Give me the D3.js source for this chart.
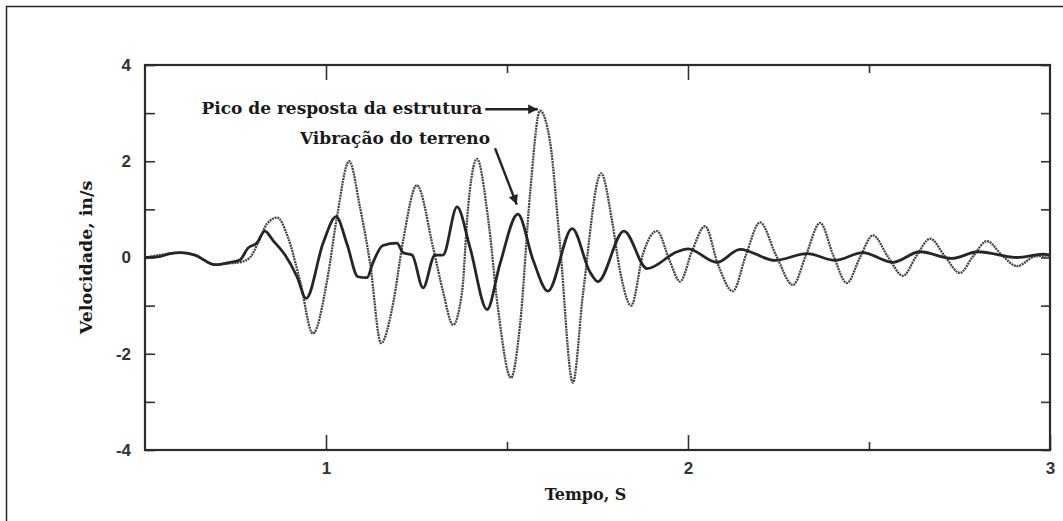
<!DOCTYPE html>
<html>
<head>
<meta charset="utf-8">
<script src="https://cdn.jsdelivr.net/npm/d3@7"></script>
<style>
  body { margin: 0; background: #fff; }
  svg { display: block; }
  .serif-label { font-family: "DejaVu Serif", serif; font-weight: bold; fill: #1a1a1a; }
  .tick text { font-family: "Liberation Sans", Arial, sans-serif; font-weight: bold; fill: #333; }
</style>
</head>
<body>
<div id="chart"></div>
<script>
// Time (s) and velocity (in/s)
const groundTime = [0.5, 0.541, 0.569, 0.597, 0.638, 0.693, 0.735, 0.762, 0.785, 0.809,
  0.831, 0.854, 0.887, 0.92, 0.945, 0.992, 1.028, 1.058, 1.088, 1.113,
  1.13, 1.157, 1.196, 1.213, 1.238, 1.268, 1.301, 1.323, 1.362, 1.398,
  1.445, 1.48, 1.53, 1.572, 1.613, 1.68, 1.729, 1.751, 1.823, 1.887,
  1.97, 2.0, 2.08, 2.144, 2.24, 2.329, 2.406, 2.483, 2.566, 2.641,
  2.729, 2.801, 2.909, 2.981, 3.0]
const groundVelocity = [0, 0.02, 0.08, 0.1, 0.05, -0.15, -0.1, -0.05, 0.2, 0.3,
  0.55, 0.35, 0.05, -0.4, -0.85, 0.3, 0.85, 0.28, -0.4, -0.42,
  -0.1, 0.25, 0.3, 0.1, 0.05, -0.63, 0.05, 0.05, 1.05, 0.2,
  -1.08, -0.15, 0.9, -0.05, -0.7, 0.6, -0.3, -0.5, 0.55, -0.23,
  0.12, 0.18, -0.1, 0.17, -0.06, 0.08, -0.06, 0.1, -0.1, 0.12,
  -0.02, 0.12, 0.0, 0.07, 0.05]

const structureTime = [0.5, 0.569, 0.597, 0.638, 0.693, 0.735, 0.762, 0.79, 0.812, 0.837,
  0.865, 0.895, 0.928, 0.964, 1.003, 1.03, 1.064, 1.094, 1.122, 1.152,
  1.185, 1.213, 1.251, 1.296, 1.323, 1.351, 1.376, 1.392, 1.417, 1.448,
  1.475, 1.511, 1.536, 1.564, 1.591, 1.619, 1.646, 1.682, 1.71, 1.76,
  1.79, 1.812, 1.843, 1.876, 1.914, 1.95, 1.978, 2.011, 2.047, 2.083,
  2.124, 2.16, 2.199, 2.243, 2.29, 2.326, 2.365, 2.401, 2.439, 2.475,
  2.511, 2.552, 2.594, 2.63, 2.669, 2.71, 2.751, 2.787, 2.826, 2.867,
  2.909, 2.958, 3.0]
const structureVelocity = [0, 0.08, 0.1, 0.05, -0.15, -0.12, -0.1, 0, 0.3, 0.7,
  0.83, 0.42, -0.48, -1.58, -0.48, 0.83, 2.0, 1.04, -0.13, -1.78,
  -0.97, 0.35, 1.5, 0.2, -0.7, -1.4, -0.7, 1.0, 2.05, 0.8,
  -1.05, -2.5, -1.4, 1.35, 3.05, 2.4, 0.3, -2.6, -0.75, 1.75,
  0.77, -0.27, -1.0, 0.08, 0.55, -0.08, -0.5, 0.13, 0.65, -0.15,
  -0.7, 0.05, 0.73, 0.05, -0.57, 0.05, 0.72, 0.05, -0.53, 0,
  0.46, 0.02, -0.38, 0.02, 0.39, 0.02, -0.32, 0.02, 0.34, 0.05,
  -0.18, 0.02, 0.04]

const xMajorTicks = [1, 2, 3]
const xMinorTicks = [1.5, 2.5]
const yTicks = [-4, -3, -2, -1, 0, 1, 2, 3, 4]
const yLabelledTicks = [-4, -2, 0, 2, 4]

// Annotation anchors in data units: [time, velocity]
const peakLabel = { text: "Pico de resposta da estrutura", at: [1.432, 2.98], from: [1.44, 3.08], to: [1.585, 3.08] }
const groundLabel = { text: "Vibração do terreno", at: [1.453, 2.36], from: [1.467, 2.27], to: [1.527, 1.1] }

const dimensions = {
  width: 1063,
  height: 521,
  margin: { top: 65, right: 13, bottom: 71, left: 145 }
}
dimensions.boundedWidth = dimensions.width - dimensions.margin.left - dimensions.margin.right
dimensions.boundedHeight = dimensions.height - dimensions.margin.top - dimensions.margin.bottom

const svg = d3.select("#chart").append("svg")
  .attr("width", dimensions.width)
  .attr("height", dimensions.height)

// thin border around the whole figure (right/bottom fall outside the frame)
svg.append("rect")
  .attr("x", 6.5).attr("y", 6.5)
  .attr("width", dimensions.width + 10).attr("height", dimensions.height + 10)
  .attr("fill", "none").attr("stroke", "#222").attr("stroke-width", 1.5)

const bounds = svg.append("g")
  .attr("transform", `translate(${dimensions.margin.left},${dimensions.margin.top})`)

const xScale = d3.scaleLinear().domain([0.5, 3]).range([0, dimensions.boundedWidth])
const yScale = d3.scaleLinear().domain([-4, 4]).range([dimensions.boundedHeight, 0])

// Axes: ticks point inward on all four sides
const yLabel = d => yLabelledTicks.includes(d) ? String(d).replace("−", "-") : ""
bounds.append("g")
  .call(d3.axisLeft(yScale).tickValues(yTicks).tickFormat(yLabel)
    .tickSizeInner(-10).tickSizeOuter(0).tickPadding(14))
  .call(g => g.selectAll(".tick text").style("font-size", "17px"))
bounds.append("g")
  .attr("transform", `translate(${dimensions.boundedWidth},0)`)
  .call(d3.axisRight(yScale).tickValues(yTicks).tickFormat("")
    .tickSizeInner(-9).tickSizeOuter(0))
bounds.append("g")
  .attr("transform", `translate(0,${dimensions.boundedHeight})`)
  .call(d3.axisBottom(xScale).tickValues(xMajorTicks).tickFormat(d3.format("d"))
    .tickSizeInner(-15).tickSizeOuter(0).tickPadding(12))
  .call(g => g.selectAll(".tick text").style("font-size", "17px"))
bounds.append("g")
  .attr("transform", `translate(0,${dimensions.boundedHeight})`)
  .call(d3.axisBottom(xScale).tickValues(xMinorTicks).tickFormat("")
    .tickSizeInner(-8).tickSizeOuter(0))
bounds.append("g")
  .call(d3.axisTop(xScale).tickValues(xMajorTicks.filter(d => d < 3)).tickFormat("")
    .tickSizeInner(-15).tickSizeOuter(0))
bounds.append("g")
  .call(d3.axisTop(xScale).tickValues(xMinorTicks).tickFormat("")
    .tickSizeInner(-8).tickSizeOuter(0))
bounds.selectAll(".domain").remove()
bounds.selectAll(".tick line").attr("stroke", "#333").attr("stroke-width", 1.6)

// Frame
bounds.append("rect")
  .attr("width", dimensions.boundedWidth)
  .attr("height", dimensions.boundedHeight)
  .attr("fill", "none").attr("stroke", "#2b2b2b").attr("stroke-width", 2.2)

const lineGenerator = d3.line()
  .x(d => xScale(d[0]))
  .y(d => yScale(d[1]))
  .curve(d3.curveMonotoneX)

// Structure response (dotted grey)
bounds.append("path")
  .attr("d", lineGenerator(d3.zip(structureTime, structureVelocity)))
  .attr("fill", "none")
  .attr("stroke", "#444")
  .attr("stroke-width", 2.3)
  .attr("stroke-dasharray", "2,0.8")

// Ground vibration (solid dark)
bounds.append("path")
  .attr("d", lineGenerator(d3.zip(groundTime, groundVelocity)))
  .attr("fill", "none")
  .attr("stroke", "#262626")
  .attr("stroke-width", 2.8)
  .attr("stroke-linejoin", "round")

// Arrowhead marker
svg.append("defs").append("marker")
  .attr("id", "arrow")
  .attr("viewBox", "0 0 10 10")
  .attr("refX", 10).attr("refY", 5)
  .attr("markerWidth", 5).attr("markerHeight", 4)
  .attr("markerUnits", "strokeWidth")
  .attr("orient", "auto")
  .append("path")
  .attr("d", "M0,0L10,5L0,10Z")
  .attr("fill", "#222")

;[peakLabel, groundLabel].forEach(a => {
  bounds.append("text")
    .attr("class", "serif-label")
    .attr("x", xScale(a.at[0]))
    .attr("y", yScale(a.at[1]))
    .attr("text-anchor", "end")
    .style("font-size", "17px")
    .text(a.text)
  bounds.append("line")
    .attr("x1", xScale(a.from[0])).attr("y1", yScale(a.from[1]))
    .attr("x2", xScale(a.to[0])).attr("y2", yScale(a.to[1]))
    .attr("stroke", "#222").attr("stroke-width", 2.4)
    .attr("marker-end", "url(#arrow)")
})

// Axis titles
svg.append("text")
  .attr("class", "serif-label")
  .attr("transform", `translate(92,${dimensions.margin.top + yScale(0)}) rotate(-90)`)
  .attr("text-anchor", "middle")
  .style("font-size", "17.5px")
  .text("Velocidade, in/s")

svg.append("text")
  .attr("class", "serif-label")
  .attr("x", dimensions.margin.left + dimensions.boundedWidth / 2 - 12)
  .attr("y", 500)
  .attr("text-anchor", "middle")
  .style("font-size", "16px")
  .text("Tempo, S")
</script>
</body>
</html>
